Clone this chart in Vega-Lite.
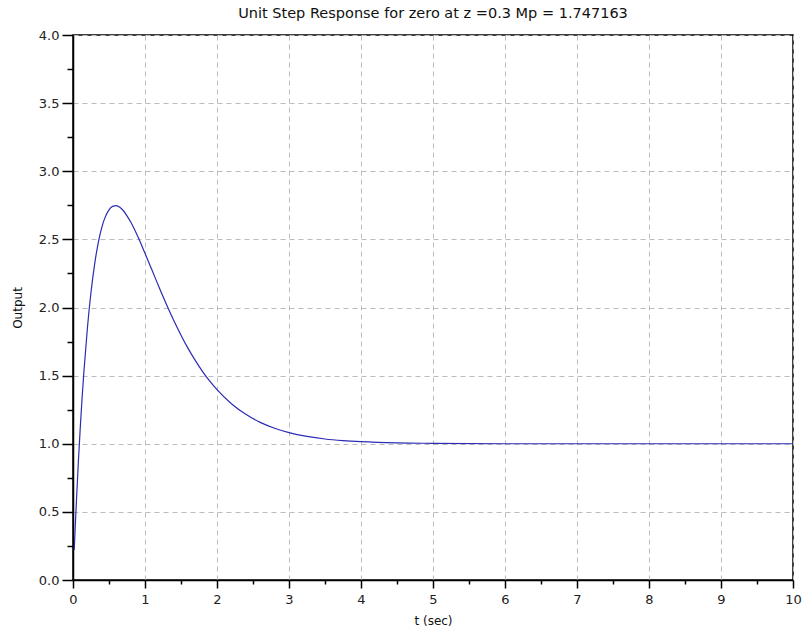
{
  "$schema": "https://vega.github.io/schema/vega-lite/v6.json",
  "width": 720,
  "height": 545,
  "autosize": {"type": "none"},
  "padding": {"left": 73, "top": 35, "right": 11, "bottom": 46},
  "background": "white",
  "config": {
    "font": "DejaVu Sans",
    "view": {"stroke": "black", "strokeWidth": 1.5}
  },
  "title": {
    "text": "Unit Step Response for zero at z =0.3 Mp = 1.747163",
    "frame": "group",
    "anchor": "middle",
    "offset": 8,
    "fontSize": 14.5,
    "fontWeight": "normal",
    "color": "#111"
  },
  "data": {
    "values": [
      {"t": 0.017, "y": 0.22},
      {"t": 0.03, "y": 0.378},
      {"t": 0.05, "y": 0.608},
      {"t": 0.075, "y": 0.871},
      {"t": 0.1, "y": 1.109},
      {"t": 0.125, "y": 1.325},
      {"t": 0.15, "y": 1.519},
      {"t": 0.2, "y": 1.849},
      {"t": 0.25, "y": 2.112},
      {"t": 0.3, "y": 2.317},
      {"t": 0.35, "y": 2.473},
      {"t": 0.4, "y": 2.588},
      {"t": 0.45, "y": 2.667},
      {"t": 0.5, "y": 2.717},
      {"t": 0.55, "y": 2.742},
      {"t": 0.6, "y": 2.747},
      {"t": 0.65, "y": 2.735},
      {"t": 0.7, "y": 2.71},
      {"t": 0.75, "y": 2.673},
      {"t": 0.8, "y": 2.629},
      {"t": 0.9, "y": 2.521},
      {"t": 1.0, "y": 2.398},
      {"t": 1.1, "y": 2.271},
      {"t": 1.2, "y": 2.143},
      {"t": 1.3, "y": 2.02},
      {"t": 1.4, "y": 1.904},
      {"t": 1.5, "y": 1.797},
      {"t": 1.6, "y": 1.698},
      {"t": 1.7, "y": 1.61},
      {"t": 1.8, "y": 1.53},
      {"t": 1.9, "y": 1.459},
      {"t": 2.0, "y": 1.397},
      {"t": 2.2, "y": 1.294},
      {"t": 2.4, "y": 1.216},
      {"t": 2.6, "y": 1.157},
      {"t": 2.8, "y": 1.114},
      {"t": 3.0, "y": 1.082},
      {"t": 3.25, "y": 1.054},
      {"t": 3.5, "y": 1.035},
      {"t": 3.75, "y": 1.023},
      {"t": 4.0, "y": 1.015},
      {"t": 4.5, "y": 1.006},
      {"t": 5.0, "y": 1.003},
      {"t": 6.0, "y": 1.0},
      {"t": 7.0, "y": 1.0},
      {"t": 8.0, "y": 1.0},
      {"t": 9.0, "y": 1.0},
      {"t": 10.0, "y": 1.0}
    ]
  },
  "layer": [
    {
      "mark": {"type": "line", "color": "#2c2cb4", "strokeWidth": 1.2, "interpolate": "monotone", "clip": true},
      "encoding": {
        "x": {
          "field": "t",
          "type": "quantitative",
          "scale": {"domain": [0, 10], "nice": false, "zero": false},
          "axis": {
            "orient": "bottom",
            "values": [0, 1, 2, 3, 4, 5, 6, 7, 8, 9, 10],
            "format": "d",
            "grid": true,
            "gridDash": [5, 4],
            "gridColor": "#bcbcbc",
            "gridWidth": 1,
            "domainColor": "black",
            "domainWidth": 1.5,
            "tickColor": "black",
            "tickWidth": 1.5,
            "tickSize": 8,
            "labelFontSize": 13,
            "labelColor": "#222",
            "labelPadding": 5,
            "labelFlush": false,
            "title": "t (sec)",
            "titleFontSize": 12,
            "titleFontWeight": "normal",
            "titleColor": "#111",
            "titlePadding": 9
          }
        },
        "y": {
          "field": "y",
          "type": "quantitative",
          "scale": {"domain": [0, 4], "nice": false, "zero": false},
          "axis": {
            "orient": "left",
            "values": [0, 0.5, 1, 1.5, 2, 2.5, 3, 3.5, 4],
            "format": ".1f",
            "grid": true,
            "gridDash": [5, 4],
            "gridColor": "#bcbcbc",
            "gridWidth": 1,
            "domainColor": "black",
            "domainWidth": 1.5,
            "tickColor": "black",
            "tickWidth": 1.5,
            "tickSize": 11,
            "labelFontSize": 13,
            "labelColor": "#222",
            "labelPadding": 3,
            "labelFlush": false,
            "title": "Output",
            "titleFontSize": 12,
            "titleFontWeight": "normal",
            "titleColor": "#111",
            "titlePadding": 14
          }
        }
      }
    },
    {
      "mark": {"type": "line", "opacity": 0},
      "encoding": {
        "x": {
          "field": "t",
          "type": "quantitative",
          "axis": {
            "orient": "bottom",
            "values": [0.5, 1.5, 2.5, 3.5, 4.5, 5.5, 6.5, 7.5, 8.5, 9.5],
            "labels": false,
            "grid": false,
            "domain": false,
            "tickColor": "black",
            "tickWidth": 1.5,
            "tickSize": 4,
            "title": null
          }
        },
        "y": {
          "field": "y",
          "type": "quantitative",
          "axis": {
            "orient": "left",
            "values": [0.25, 0.75, 1.25, 1.75, 2.25, 2.75, 3.25, 3.75],
            "labels": false,
            "grid": false,
            "domain": false,
            "tickColor": "black",
            "tickWidth": 1.5,
            "tickSize": 6,
            "title": null
          }
        }
      }
    }
  ],
  "resolve": {"axis": {"x": "independent", "y": "independent"}}
}
